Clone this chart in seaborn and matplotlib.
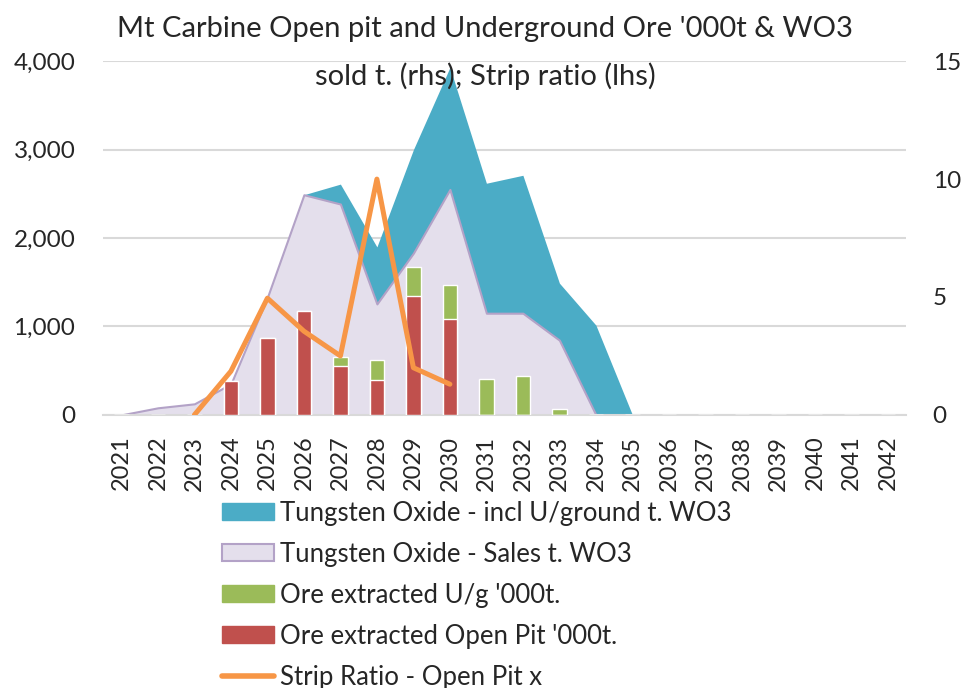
import numpy as np
import pandas as pd
import matplotlib
matplotlib.use("Agg")
import matplotlib.pyplot as plt
import seaborn as sns
from matplotlib.patches import Patch
from matplotlib.lines import Line2D

years = list(range(2021, 2043))
wo3_incl_ug = [0, 80, 125, 350, 1330, 2490, 2610, 1900, 3000, 3930, 2620, 2710, 1490, 1015, 0,
               0, 0, 0, 0, 0, 0, 0]
wo3_sales = [0, 80, 125, 350, 1330, 2490, 2385, 1255, 1830, 2550, 1150, 1150, 845, 0, 0,
             0, 0, 0, 0, 0, 0, 0]
ore_open_pit = [0, 0, 0, 380, 870, 1170, 550, 395, 1340, 1080, 0, 0, 0, 0, 0,
                0, 0, 0, 0, 0, 0, 0]
ore_ug = [0, 0, 0, 0, 0, 0, 105, 225, 330, 390, 410, 440, 70, 0, 0,
          0, 0, 0, 0, 0, 0, 0]
strip_years = [2023, 2024, 2025, 2026, 2027, 2028, 2029, 2030]
strip_ratio = [0, 1.85, 4.95, 3.55, 2.5, 10.0, 2.0, 1.3]

sns.set_style("white")
plt.rcParams['font.family'] = ['Lato', 'DejaVu Sans']

df = pd.DataFrame({"year": [str(y) for y in years],
                   "pos": np.arange(len(years)),
                   "incl": wo3_incl_ug, "sales": wo3_sales,
                   "op": ore_open_pit, "ug": ore_ug})
df["total"] = df["op"] + df["ug"]
sr = pd.DataFrame({"pos": [years.index(y) for y in strip_years], "sr": strip_ratio})

fig = plt.figure(figsize=(9.64, 6.88), dpi=100)
ax = fig.add_axes([0.107, 0.397, 0.833, 0.514])

teal = "#4bacc6"
lav = "#e4dfec"
lav_edge = "#b3a2c7"
red = "#c0504d"
green = "#9bbb59"
orange = "#f79646"

# areas
ax.fill_between(df["pos"], df["incl"], color=teal, lw=0, zorder=1)
ax.fill_between(df["pos"], df["sales"], facecolor=lav, edgecolor=lav_edge, lw=1.5, zorder=2)
# stacked bars: total (green) underneath, open pit (red) on top
sns.barplot(data=df, x="pos", y="total", color=green, width=0.4, ax=ax, saturation=1,
            native_scale=True, zorder=3)
sns.barplot(data=df, x="pos", y="op", color=red, width=0.4, ax=ax, saturation=1,
            native_scale=True, zorder=4)

ax.set_xlim(-0.5, len(years) - 0.5)
ax.set_ylim(0, 4000)
ax.set_yticks([0, 1000, 2000, 3000, 4000])
ax.set_yticklabels([f"{v:,}" for v in [0, 1000, 2000, 3000, 4000]], fontsize=17.5)
ax.set_xticks(df["pos"])
ax.set_xticklabels(df["year"], rotation=90, fontsize=17)
ax.set_xlabel("")
ax.set_ylabel("")
ax.grid(axis="y", color="#d9d9d9", lw=1.5, zorder=0)
ax.set_axisbelow(True)
for s in ["top", "left", "right"]:
    ax.spines[s].set_visible(False)
ax.spines["bottom"].set_color("#d9d9d9")
ax.spines["bottom"].set_linewidth(1.5)
ax.tick_params(axis="x", length=0, pad=15)
ax.tick_params(axis="y", length=0, pad=20)

ax2 = ax.twinx()
sns.lineplot(data=sr, x="pos", y="sr", color=orange, lw=3.6, ax=ax2)
ax2.set_ylim(0, 15)
ax2.set_yticks([0, 5, 10, 15])
ax2.set_yticklabels(["0", "5", "10", "15"], fontsize=17.5)
ax2.set_ylabel("")
for s in ax2.spines.values():
    s.set_visible(False)
ax2.tick_params(axis="y", length=0, pad=19)

fig.text(0.503, 0.946, "Mt Carbine Open pit and Underground Ore '000t & WO3",
         ha="center", va="baseline", fontsize=21)
fig.text(0.503, 0.8765, "sold t. (rhs); Strip ratio (lhs)",
         ha="center", va="baseline", fontsize=21)

handles = [Patch(facecolor=teal, edgecolor=teal),
           Patch(facecolor=lav, edgecolor=lav_edge, lw=1.5),
           Patch(facecolor=green, edgecolor=green),
           Patch(facecolor=red, edgecolor=red),
           Line2D([0], [0], color=orange, lw=4, solid_capstyle="round")]
labels = ["Tungsten Oxide - incl U/ground t. WO3",
          "Tungsten Oxide - Sales t. WO3",
          "Ore extracted U/g '000t.",
          "Ore extracted Open Pit '000t.",
          "Strip Ratio - Open Pit x"]
fig.legend(handles, labels, loc="upper left", bbox_to_anchor=(0.22, 0.287), frameon=False,
           fontsize=18.5, handlelength=2.02, handleheight=0.62, handletextpad=0.23,
           labelspacing=0.62, borderaxespad=0)

fig.savefig("out.png", dpi=100)
